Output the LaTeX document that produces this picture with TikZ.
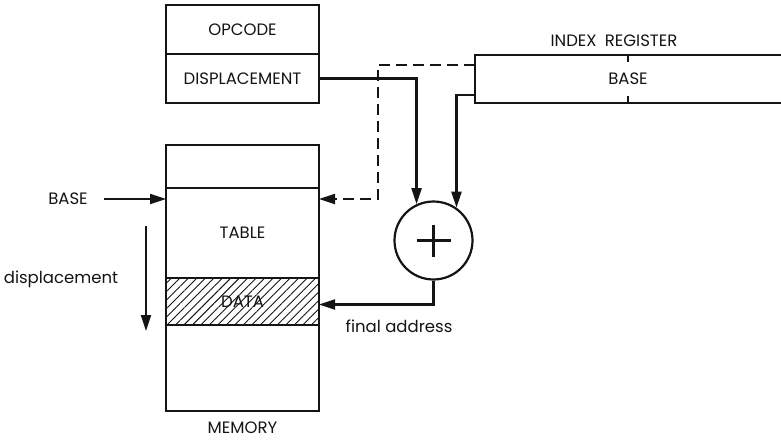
\documentclass[tikz,border=0pt]{standalone}
\usepackage{fontspec}
\setmainfont{Poppins}
\usetikzlibrary{arrows.meta, positioning, patterns.meta}
\definecolor{ink}{HTML}{141414}
\tikzset{
  font=\fontsize{16.5}{20}\selectfont,
  >={Triangle[length=16pt, width=10pt]},
  %
  wire/.style={draw=ink, line width=2.2pt},
  flow/.style={wire, ->},
  flowdash/.style={flow, dash pattern=on 11pt off 6pt},
  %
  cell/.style={draw=ink, line width=2.2pt, minimum width=153pt,
               inner sep=0pt, outer sep=0pt, text=ink},
  cellh/.style={cell, pattern={Lines[angle=45, distance=6pt, line width=0.9pt]},
                pattern color=ink},
  adder/.style={circle, draw=ink, line width=2.2pt, minimum size=78pt, inner sep=0pt},
  %
  lbl/.style={text=ink, inner sep=2pt},
}

\begin{document}
\begin{tikzpicture}[x=1pt, y=-1pt]
  \useasboundingbox (0,0) rectangle (781,441);

  % =======================================================================
  % instruction word
  % =======================================================================
  \node[cell, minimum height=49pt] (opcode) at (242.5,29.5) {OPCODE};
  \node[cell, minimum height=49pt, below=0pt of opcode] (disp) {DISPLACEMENT};

  % =======================================================================
  % index register (runs off the right edge)
  % =======================================================================
  \node[lbl, minimum width=306pt, minimum height=48pt, inner sep=0pt]
    (reg) at (628,79) {BASE};
  \draw[wire] (reg.north east) -- (reg.north west) -- (reg.south west) -- (reg.south east);
  \draw[wire, line width=1.3pt] (reg.north) -- ++(0,7);
  \draw[wire, line width=1.3pt] (reg.south) -- ++(0,-7);
  \node[lbl] (reglbl) at (614,41) {INDEX\enspace REGISTER};

  % =======================================================================
  % memory
  % =======================================================================
  \node[cell, minimum height=43pt] (memtop) at (242.5,166.5) {};
  \node[cell, minimum height=90pt, below=0pt of memtop] (table) {TABLE};
  \node[cellh, minimum height=47pt, below=0pt of table] (data) {DATA};
  \node[cell, minimum height=86pt, below=0pt of data] (membot) {};
  \node[lbl] (memlbl) at (242.5,428) {MEMORY};

  % =======================================================================
  % adder
  % =======================================================================
  \node[adder] (add) at (433.5,240.5) {};
  \draw[wire] ([xshift=-17pt]add.center) -- ([xshift=17pt]add.center);
  \draw[wire] ([yshift=16pt]add.center) -- ([yshift=-16pt]add.center);

  % labels
  \node[lbl] (baselbl) at (68,199) {BASE};
  \node[lbl] (displbl) at (61,279) {displacement};
  \node[lbl] (finlbl) at (399,326) {final address};

  \coordinate (tabin) at ([yshift=-11pt]table.north east);
  \coordinate (tabbase) at ([yshift=-11pt]table.north west);
  \coordinate (dtop) at (146,226);
  \coordinate (dbot) at (146,331);

  % connectors
  \draw[flow] (disp.east) -| (add.115);
  \draw[flow] ([yshift=8pt]reg.south west) -| (add.55);
  \draw[flowdash] ([yshift=-10pt]reg.north west) -| ([xshift=59pt]tabin) -- (tabin);
  \draw[flow] (add.south) |- ([yshift=-3pt]data.east);
  \draw[flow] ([xshift=14pt]baselbl.east) -- (tabbase);
  \draw[flow] (dtop) -- (dbot);

\end{tikzpicture}
\end{document}
